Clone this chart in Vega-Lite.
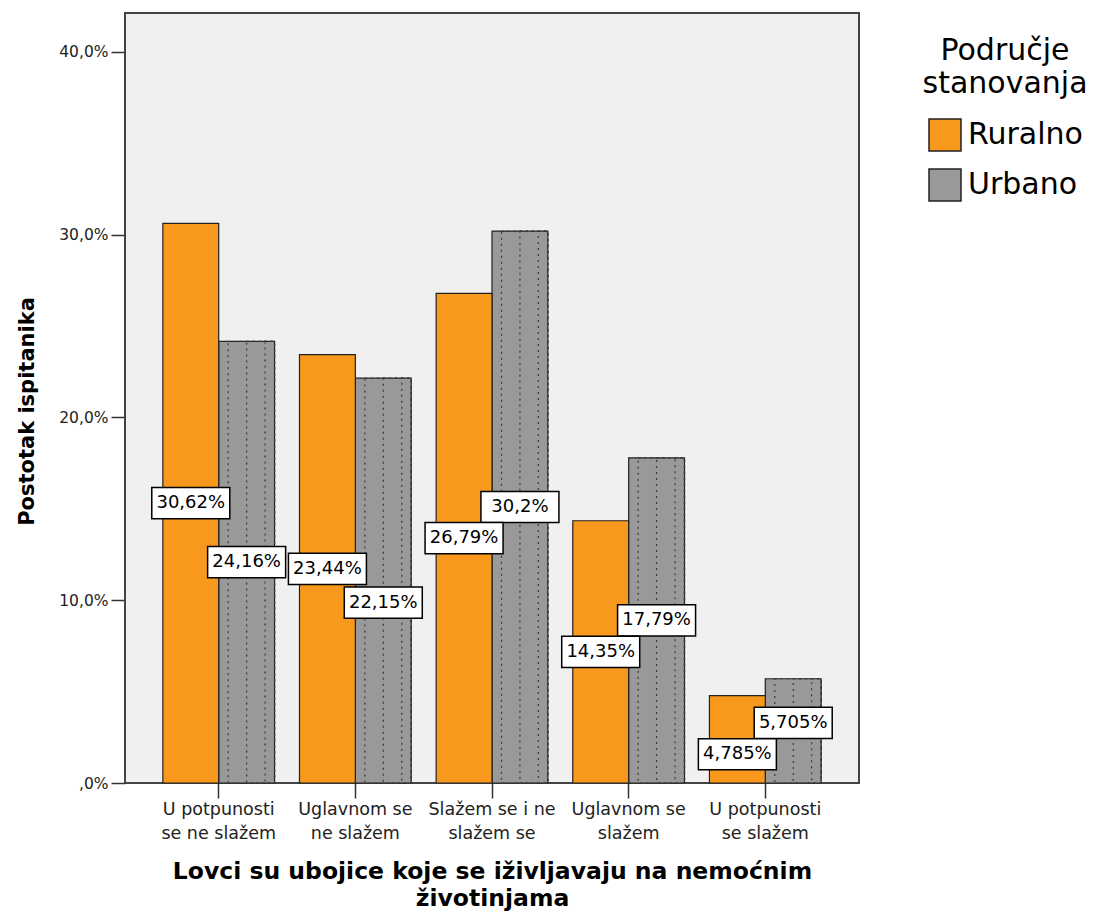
{
  "$schema": "https://vega.github.io/schema/vega-lite/v6.json",
  "width": 734,
  "height": 770,
  "autosize": {"type": "none"},
  "padding": {"left": 125, "top": 13, "right": 235, "bottom": 130},
  "background": "white",
  "config": {
    "view": {"fill": "#f0f0f0", "stroke": "#444444", "strokeWidth": 2},
    "font": "DejaVu Sans"
  },
  "data": {
    "values": [
      {"odgovor": "U potpunosti se ne slažem", "podrucje": "Urbano", "postotak": 24.16, "oznaka": "24,16%"},
      {"odgovor": "Uglavnom se ne slažem", "podrucje": "Urbano", "postotak": 22.15, "oznaka": "22,15%"},
      {"odgovor": "Slažem se i ne slažem se", "podrucje": "Urbano", "postotak": 30.2, "oznaka": "30,2%"},
      {"odgovor": "Uglavnom se slažem", "podrucje": "Urbano", "postotak": 17.79, "oznaka": "17,79%"},
      {"odgovor": "U potpunosti se slažem", "podrucje": "Urbano", "postotak": 5.705, "oznaka": "5,705%"},
      {"odgovor": "U potpunosti se ne slažem", "podrucje": "Ruralno", "postotak": 30.62, "oznaka": "30,62%"},
      {"odgovor": "Uglavnom se ne slažem", "podrucje": "Ruralno", "postotak": 23.44, "oznaka": "23,44%"},
      {"odgovor": "Slažem se i ne slažem se", "podrucje": "Ruralno", "postotak": 26.79, "oznaka": "26,79%"},
      {"odgovor": "Uglavnom se slažem", "podrucje": "Ruralno", "postotak": 14.35, "oznaka": "14,35%"},
      {"odgovor": "U potpunosti se slažem", "podrucje": "Ruralno", "postotak": 4.785, "oznaka": "4,785%"}
    ]
  },
  "encoding": {
    "x": {
      "field": "odgovor",
      "type": "nominal",
      "sort": ["U potpunosti se ne slažem", "Uglavnom se ne slažem", "Slažem se i ne slažem se", "Uglavnom se slažem", "U potpunosti se slažem"],
      "scale": {"paddingInner": 0.1825, "paddingOuter": 0.277},
      "title": ["Lovci su ubojice koje se iživljavaju na nemoćnim", "životinjama"],
      "axis": {
        "labelAngle": 0,
        "labelFontSize": 17.5,
        "labelLineHeight": 24,
        "labelColor": "#222222",
        "labelPadding": 2,
        "labelBaseline": "top",
        "labelExpr": "indexof(datum.label,'Slažem se i')==0 ? ['Slažem se i ne','slažem se'] : indexof(datum.label,'Uglavnom se ')==0 ? ['Uglavnom se', substring(datum.label,12)] : ['U potpunosti', substring(datum.label,13)]",
        "tickSize": 15,
        "tickColor": "#333333",
        "tickWidth": 1.5,
        "domain": false,
        "grid": false,
        "titleFontSize": 23.5,
        "titleFontWeight": "bold",
        "titleColor": "black",
        "titleLineHeight": 27,
        "titleBaseline": "top",
        "titleY": 76
      }
    },
    "xOffset": {"field": "podrucje", "type": "nominal", "sort": ["Ruralno", "Urbano"], "scale": {"paddingInner": 0, "paddingOuter": 0}},
    "y": {"field": "postotak", "type": "quantitative", "scale": {"domain": [0, 84.26], "nice": false}, "axis": null}
  },
  "layer": [
    {
      "mark": {"type": "bar", "stroke": "#222222", "strokeWidth": 1.2},
      "encoding": {
        "y": {
          "field": "postotak",
          "type": "quantitative",
          "scale": {"domain": [0, 42.13], "nice": false},
          "axis": {
            "values": [0, 10, 20, 30, 40],
            "labelExpr": "datum.value == 0 ? ',0%' : replace(format(datum.value,'.1f'),'.',',') + '%'",
            "labelFontSize": 15.5,
            "labelColor": "#222222",
            "labelPadding": 3,
            "tickSize": 14,
            "tickColor": "#333333",
            "tickWidth": 1.5,
            "domain": false,
            "grid": false,
            "title": "Postotak ispitanika",
            "titleFontSize": 21,
            "titleFontWeight": "bold",
            "titleColor": "black",
            "titleX": -98,
            "titleY": 398,
            "titleAngle": -90,
            "titleAlign": "center",
            "titleBaseline": "middle"
          }
        },
        "color": {
          "field": "podrucje",
          "type": "nominal",
          "scale": {"domain": ["Ruralno", "Urbano"], "range": ["#f8981d", "#999999"]},
          "legend": {
            "orient": "none",
            "legendX": 797,
            "legendY": 23,
            "title": ["Područje", "stanovanja"],
            "titleFontSize": 30,
            "titleFontWeight": "normal",
            "titleColor": "black",
            "titleLineHeight": 33,
            "titleAnchor": "middle",
            "titleAlign": "center",
            "titlePadding": 19,
            "labelFontSize": 30,
            "labelColor": "black",
            "labelOffset": 6,
            "symbolType": "square",
            "symbolSize": 1024,
            "symbolStrokeColor": "#222222",
            "symbolStrokeWidth": 1.5,
            "symbolOpacity": 1,
            "rowPadding": 12
          }
        }
      }
    },
    {
      "transform": [{"filter": "datum.podrucje == 'Urbano'"}],
      "mark": {"type": "bar", "width": {"band": 0.83}, "fill": null, "fillOpacity": 0, "stroke": "#3a3a3a", "strokeWidth": 1.2, "strokeDash": [2, 4]},
      "encoding": {
        "y": {"field": "postotak", "type": "quantitative", "scale": {"domain": [0, 42.13], "nice": false}, "axis": null}
      }
    },
    {
      "transform": [{"filter": "datum.podrucje == 'Urbano'"}],
      "mark": {"type": "bar", "width": {"band": 0.5}, "fill": null, "fillOpacity": 0, "stroke": "#3a3a3a", "strokeWidth": 1.2, "strokeDash": [2, 4]},
      "encoding": {
        "y": {"field": "postotak", "type": "quantitative", "scale": {"domain": [0, 42.13], "nice": false}, "axis": null}
      }
    },
    {
      "transform": [{"filter": "datum.podrucje == 'Urbano'"}],
      "mark": {"type": "bar", "width": {"band": 0.17}, "fill": null, "fillOpacity": 0, "stroke": "#3a3a3a", "strokeWidth": 1.2, "strokeDash": [2, 4]},
      "encoding": {
        "y": {"field": "postotak", "type": "quantitative", "scale": {"domain": [0, 42.13], "nice": false}, "axis": null}
      }
    },
    {
      "transform": [{"filter": "indexof(['22,15%','5,705%','4,785%'], datum.oznaka) < 0"}],
      "mark": {"type": "point", "shape": "M-1,-0.4L1,-0.4L1,0.4L-1,0.4Z", "filled": true, "fill": "white", "stroke": "black", "strokeWidth": 1.5, "size": 6084, "opacity": 1}
    },
    {
      "transform": [{"filter": "indexof(['22,15%','5,705%','4,785%'], datum.oznaka) < 0"}],
      "mark": {"type": "text", "fontSize": 18, "color": "black", "baseline": "middle", "align": "center"},
      "encoding": {"text": {"field": "oznaka", "type": "nominal"}}
    },
    {
      "transform": [{"filter": "datum.oznaka == '22,15%'"}],
      "mark": {"type": "point", "shape": "M-1,-0.4L1,-0.4L1,0.4L-1,0.4Z", "filled": true, "fill": "white", "stroke": "black", "strokeWidth": 1.5, "size": 6084, "opacity": 1, "yOffset": 22}
    },
    {
      "transform": [{"filter": "datum.oznaka == '22,15%'"}],
      "mark": {"type": "text", "fontSize": 18, "color": "black", "baseline": "middle", "align": "center", "yOffset": 22},
      "encoding": {"text": {"field": "oznaka", "type": "nominal"}}
    },
    {
      "transform": [{"filter": "datum.oznaka == '5,705%'"}],
      "mark": {"type": "point", "shape": "M-1,-0.4L1,-0.4L1,0.4L-1,0.4Z", "filled": true, "fill": "white", "stroke": "black", "strokeWidth": 1.5, "size": 6084, "opacity": 1, "yOffset": -8}
    },
    {
      "transform": [{"filter": "datum.oznaka == '5,705%'"}],
      "mark": {"type": "text", "fontSize": 18, "color": "black", "baseline": "middle", "align": "center", "yOffset": -8},
      "encoding": {"text": {"field": "oznaka", "type": "nominal"}}
    },
    {
      "transform": [{"filter": "datum.oznaka == '4,785%'"}],
      "mark": {"type": "point", "shape": "M-1,-0.4L1,-0.4L1,0.4L-1,0.4Z", "filled": true, "fill": "white", "stroke": "black", "strokeWidth": 1.5, "size": 6084, "opacity": 1, "yOffset": 15}
    },
    {
      "transform": [{"filter": "datum.oznaka == '4,785%'"}],
      "mark": {"type": "text", "fontSize": 18, "color": "black", "baseline": "middle", "align": "center", "yOffset": 15},
      "encoding": {"text": {"field": "oznaka", "type": "nominal"}}
    }
  ],
  "resolve": {"scale": {"y": "independent"}}
}
